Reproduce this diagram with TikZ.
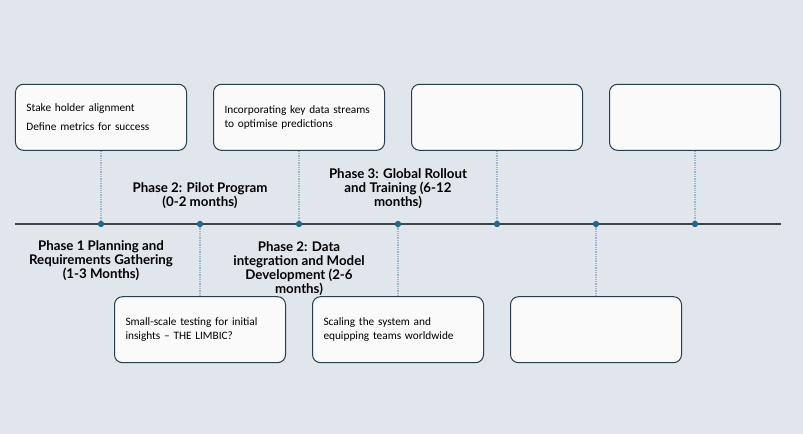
\documentclass[tikz,border=0pt]{standalone}
\usepackage{fontspec}
\setmainfont{Carlito}
\newfontfamily\phasefont{Lato}
\usetikzlibrary{positioning}

\definecolor{bgGrey}{HTML}{E1E5EC}
\definecolor{boxLine}{HTML}{253F4E}
\definecolor{dotTeal}{HTML}{1F6A8C}
\definecolor{linkBlue}{HTML}{9AB6CD}
\definecolor{axisGrey}{HTML}{3F4448}

\tikzset{
    box/.style={draw=boxLine, fill=white!98!black, rounded corners=8bp, line width=1bp,
        minimum width=171bp, minimum height=66bp, text width=149bp, align=left,
        font=\fontsize{11.3bp}{13.5bp}\selectfont},
    tick/.style={circle, fill=dotTeal, inner sep=0pt, minimum size=6bp},
    link/.style={draw=linkBlue, densely dotted, line width=1.3bp},
    phase/.style={align=center, inner sep=1bp, font=\phasefont\bfseries\fontsize{13.3bp}{14.2bp}\selectfont}
}

\begin{document}
\begin{tikzpicture}[x=1bp, y=-1bp]
    \fill[bgGrey] (0,0) rectangle (803,434);
    \useasboundingbox (0,0) rectangle (803,434);

    % timeline
    \coordinate (lineStart) at (15,224);
    \coordinate (lineEnd) at (781,224);
    \draw[axisGrey, line width=1.2bp] (lineStart) -- (lineEnd);

    \node[tick] (d1) at (101,224) {};
    \node[tick] (d2) at (200,224) {};
    \node[tick] (d3) at (299,224) {};
    \node[tick] (d4) at (398,224) {};
    \node[tick] (d5) at (497,224) {};
    \node[tick] (d6) at (596,224) {};
    \node[tick] (d7) at (695,224) {};

    % boxes above the line
    \node[box, above=70bp of d1] (top1) {Stake holder alignment\\[5bp]Define metrics for success};
    \node[box, above=70bp of d3] (top2) {Incorporating key data streams\\to optimise predictions};
    \node[box, above=70bp of d5] (top3) {};
    \node[box, above=70bp of d7] (top4) {};

    % boxes below the line
    \node[box, below=69bp of d2] (bot1) {Small-scale testing for initial\\insights -- THE LIMBIC?};
    \node[box, below=69bp of d4] (bot2) {Scaling the system and\\equipping teams worldwide};
    \node[box, below=69bp of d6] (bot3) {};

    \draw[link] (top1) -- (d1);
    \draw[link] (top2) -- (d3);
    \draw[link] (top3) -- (d5);
    \draw[link] (top4) -- (d7);
    \draw[link] (bot1) -- (d2);
    \draw[link] (bot2) -- (d4);
    \draw[link] (bot3) -- (d6);
    \foreach \d in {d1,d2,d3,d4,d5,d6,d7} \node[tick] at (\d) {};

    % phase labels
    \node[phase, above=11bp of d2] (pilotLabel) {Phase 2: Pilot Program\\(0-2 months)};
    \node[phase, above=11bp of d4] (rolloutLabel) {Phase 3: Global Rollout\\and Training (6-12\\months)};
    \node[phase, below=12bp of d1] (planLabel) {Phase 1 Planning and\\Requirements Gathering\\(1-3 Months)};
    \node[phase, below=13bp of d3] (dataLabel) {Phase 2: Data\\integration and Model\\Development (2-6\\months)};

\end{tikzpicture}
\end{document}
